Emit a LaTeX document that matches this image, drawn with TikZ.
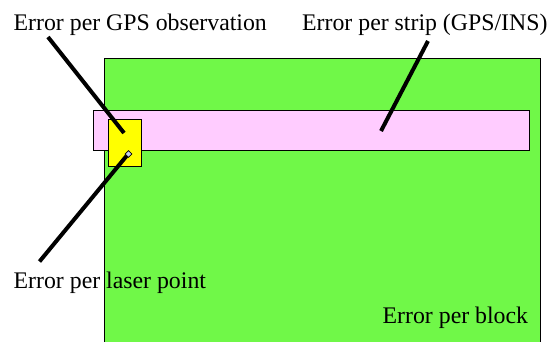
\documentclass[tikz,border=0pt]{standalone}
\usepackage{fontspec}
\setmainfont{Liberation Serif}
\usetikzlibrary{shapes.geometric}
\definecolor{blockgreen}{RGB}{112,248,72}
\definecolor{strippink}{RGB}{255,204,255}
\definecolor{gpsyellow}{RGB}{255,255,0}
\definecolor{pointblue}{RGB}{200,210,240}
\begin{document}
\begin{tikzpicture}[x=1pt,y=-1pt,
  lbl/.style={anchor=base west,inner sep=0pt,font=\fontsize{23.8}{28}\selectfont},
  leader/.style={line width=4pt,black},
  area/.style={draw=black,line width=1pt}]
\useasboundingbox (0,0) rectangle (555,341);
% block
\path[area,fill=blockgreen] (104.5,58) rectangle (540,350);
% strip
\path[area,fill=strippink] (93.5,110) rectangle (529,150);
% GPS observation
\path[area,fill=gpsyellow] (108.5,119) rectangle (141,166.5);
% laser point
\node[diamond,draw=black,line width=0.8pt,fill=pointblue,inner sep=0pt,minimum size=7pt] (pt) at (128.5,154) {};
% labels
\node[lbl] (lgps) at (13.5,30) {Error per GPS observation};
\node[lbl] (lstrip) at (302,30) {Error per strip (GPS/INS)};
\node[lbl] (llaser) at (13.5,288.5) {Error per laser point};
\node[lbl] (lblock) at (382.5,323) {Error per block};
% leader lines
\coordinate (g1) at (48,37);
\coordinate (g2) at (124,133);
\coordinate (s1) at (428,41);
\coordinate (s2) at (381,131);
\coordinate (p1) at (39.5,261.5);
\draw[leader] (g1) -- (g2);
\draw[leader] (s1) -- (s2);
\draw[leader] (p1) -- (pt.south west);
\end{tikzpicture}
\end{document}
